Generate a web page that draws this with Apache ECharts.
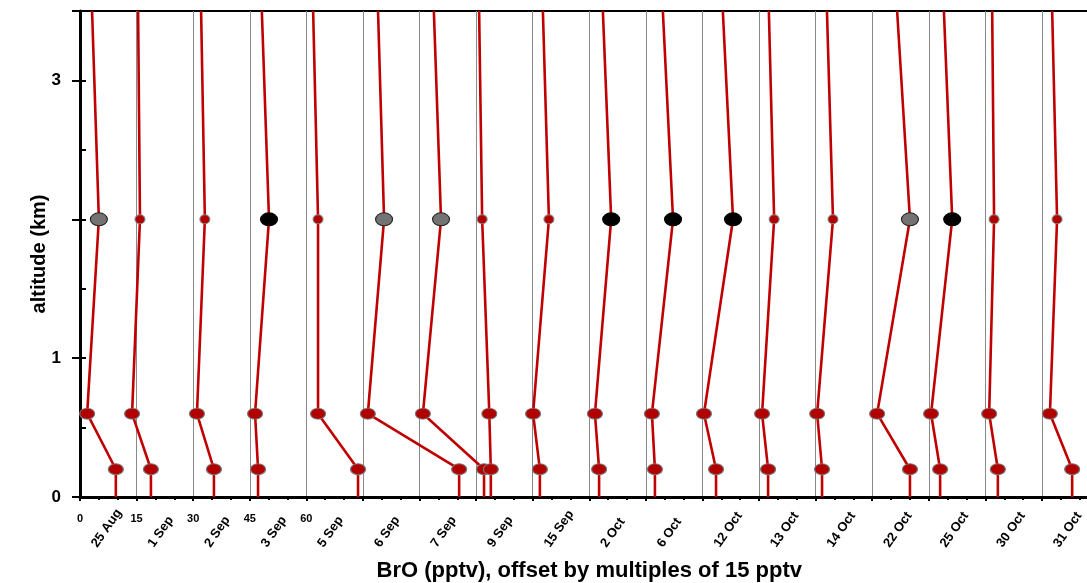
<!DOCTYPE html>
<html>
<head>
<meta charset="utf-8">
<script src="https://cdn.jsdelivr.net/npm/echarts@6/dist/echarts.min.js"></script>
<style>
html,body{margin:0;padding:0;background:#fff;}
#c{width:1087px;height:583px;}
</style>
</head>
<body>
<div id="c"></div>
<script>
// ---- data ----
const dates = ['25 Aug','1 Sep','2 Sep','3 Sep','5 Sep','6 Sep','7 Sep','9 Sep','15 Sep',
  '2 Oct','6 Oct','12 Oct','13 Oct','14 Oct','22 Oct','25 Oct','30 Oct','31 Oct'];
const altitudes = [0, 0.2, 0.6, 2, 3.5];
// BrO (pptv) at each altitude level, before offset
const bro02 = [9.5, 3.8, 5.5, 2.2, 13.7, 25.5, 17.1, 3.9, 1.9, 2.6, 2.4, 3.6, 2.4, 1.7, 10.0, 3.0, 3.3, 8.0];
const bro06 = [1.9, -1.2, 1.0, 1.4, 3.1, 1.3, 0.9, 3.5, 0.1, 1.5, 1.6, 0.4, 0.8, 0.4, 1.3, 0.6, 1.0, 2.1];
const bro2km = [5.0, 0.9, 3.1, 5.1, 3.1, 5.6, 5.7, 1.6, 4.3, 5.8, 7.2, 8.1, 4.0, 4.6, 10.0, 6.2, 2.3, 4.0];
const broTop = [3.2, 0.4, 2.1, 3.2, 1.8, 4.0, 3.8, 0.8, 2.7, 3.6, 4.5, 5.4, 2.6, 3.0, 6.6, 4.0, 1.8, 2.7];
const marker2km = ['gray','red','red','black','red','gray','gray','red','red',
  'black','black','black','red','red','gray','black','red','red'];
const offsetStep = 15;
const xTickLabels = [0, 15, 30, 45, 60];
const yTickLabels = [0, 1, 3];

// ---- build ----
const RED = '#c00000';
const FONT = 'Liberation Sans, Arial, sans-serif';
const series = [];
const lowPts = [], midPts = [];
dates.forEach((d, k) => {
  const off = k * offsetStep;
  const xs = [bro02[k], bro02[k], bro06[k], bro2km[k], broTop[k]];
  series.push({
    type: 'line', name: d, xAxisIndex: 0, yAxisIndex: 0,
    showSymbol: false, symbol: 'none', silent: true, animation: false,
    lineStyle: { color: RED, width: 2.6 },
    data: xs.map((x, i) => [x + off, altitudes[i]]),
    z: 3
  });
  lowPts.push([bro02[k] + off, altitudes[1]]);
  lowPts.push([bro06[k] + off, altitudes[2]]);
  let st;
  if (marker2km[k] === 'gray') st = { symbolSize: [17, 13], itemStyle: { color: '#737373', borderColor: '#222', borderWidth: 1, opacity: 1 } };
  else if (marker2km[k] === 'black') st = { symbolSize: [17, 13], itemStyle: { color: '#000', borderColor: '#000', borderWidth: 1, opacity: 1 } };
  else st = { symbolSize: [10, 9], itemStyle: { color: '#b00000', borderColor: '#888', borderWidth: 1, opacity: 1 } };
  midPts.push(Object.assign({ value: [bro2km[k] + off, altitudes[3]] }, st));
});
series.push({
  type: 'scatter', xAxisIndex: 0, yAxisIndex: 0, animation: false, silent: true,
  symbol: 'circle', symbolSize: [15, 11],
  itemStyle: { color: '#b00000', borderColor: '#777', borderWidth: 1, opacity: 1 },
  data: lowPts, z: 4
});
series.push({
  type: 'scatter', xAxisIndex: 0, yAxisIndex: 0, animation: false, silent: true,
  symbol: 'circle', itemStyle: { opacity: 1 }, data: midPts, z: 4
});

const plotW = 270 * 3.7725;
const chart = echarts.init(document.getElementById('c'), null, { renderer: 'canvas' });
chart.setOption({
  animation: false,
  backgroundColor: '#fff',
  textStyle: { fontFamily: FONT },
  grid: [
    { left: 80, top: 11, width: plotW, height: 486, show: true, borderColor: '#000', borderWidth: 2,
      backgroundColor: 'transparent', outerBoundsMode: 'none', containLabel: false },
    { left: 66, top: 11, width: plotW, height: 486, show: false, outerBoundsMode: 'none', containLabel: false }
  ],
  xAxis: [
    {
      type: 'value', gridIndex: 0, min: 0, max: 270, interval: 15,
      name: 'BrO (pptv), offset by multiples of 15 pptv',
      nameLocation: 'middle', nameGap: 63,
      nameTextStyle: { color: '#000', fontWeight: 'bold', fontSize: 22, fontFamily: FONT },
      axisLine: { show: true, lineStyle: { color: '#000', width: 3 } },
      axisTick: { show: true, length: 4, lineStyle: { color: '#000', width: 2 } },
      minorTick: { show: true, splitNumber: 3, length: 3, lineStyle: { color: '#000', width: 2 } },
      splitLine: { show: true, lineStyle: { color: '#8a8a8a', width: 1 } },
      axisLabel: {
        color: '#000', fontWeight: 'bold', fontSize: 11, margin: 16,
        formatter: v => (xTickLabels.indexOf(v) >= 0 ? String(v) : '')
      }
    },
    {
      type: 'category', gridIndex: 1, data: dates, boundaryGap: true,
      axisLine: { show: false }, axisTick: { show: false }, splitLine: { show: false },
      axisLabel: {
        interval: 0, rotate: 55, align: 'left', verticalAlign: 'middle', margin: 49,
        color: '#000', fontWeight: 'bold', fontSize: 13
      }
    }
  ],
  yAxis: [
    {
      type: 'value', gridIndex: 0, min: 0, max: 3.5, interval: 1, position: 'left',
      name: 'altitude (km)', nameLocation: 'middle', nameGap: 31, nameMoveOverlap: false,
      nameTextStyle: { color: '#000', fontWeight: 'bold', fontSize: 20, fontFamily: FONT },
      axisLine: { show: true, lineStyle: { color: '#000', width: 3 } },
      axisTick: { show: true, length: 8, lineStyle: { color: '#000', width: 2 } },
      splitLine: { show: false },
      axisLabel: {
        color: '#000', fontWeight: 'bold', fontSize: 17, margin: 19,
        formatter: v => (yTickLabels.indexOf(v) >= 0 ? String(v) : '')
      }
    },
    {
      type: 'value', gridIndex: 0, min: 0, max: 3.5, interval: 0.5, position: 'left',
      axisLine: { show: false },
      axisTick: { show: true, inside: true, length: 6, lineStyle: { color: '#000', width: 2 } },
      axisLabel: { show: false }, splitLine: { show: false }
    },
    {
      type: 'value', gridIndex: 1, min: 0, max: 3.5, show: false
    }
  ],
  series: series
});
</script>
</body>
</html>
